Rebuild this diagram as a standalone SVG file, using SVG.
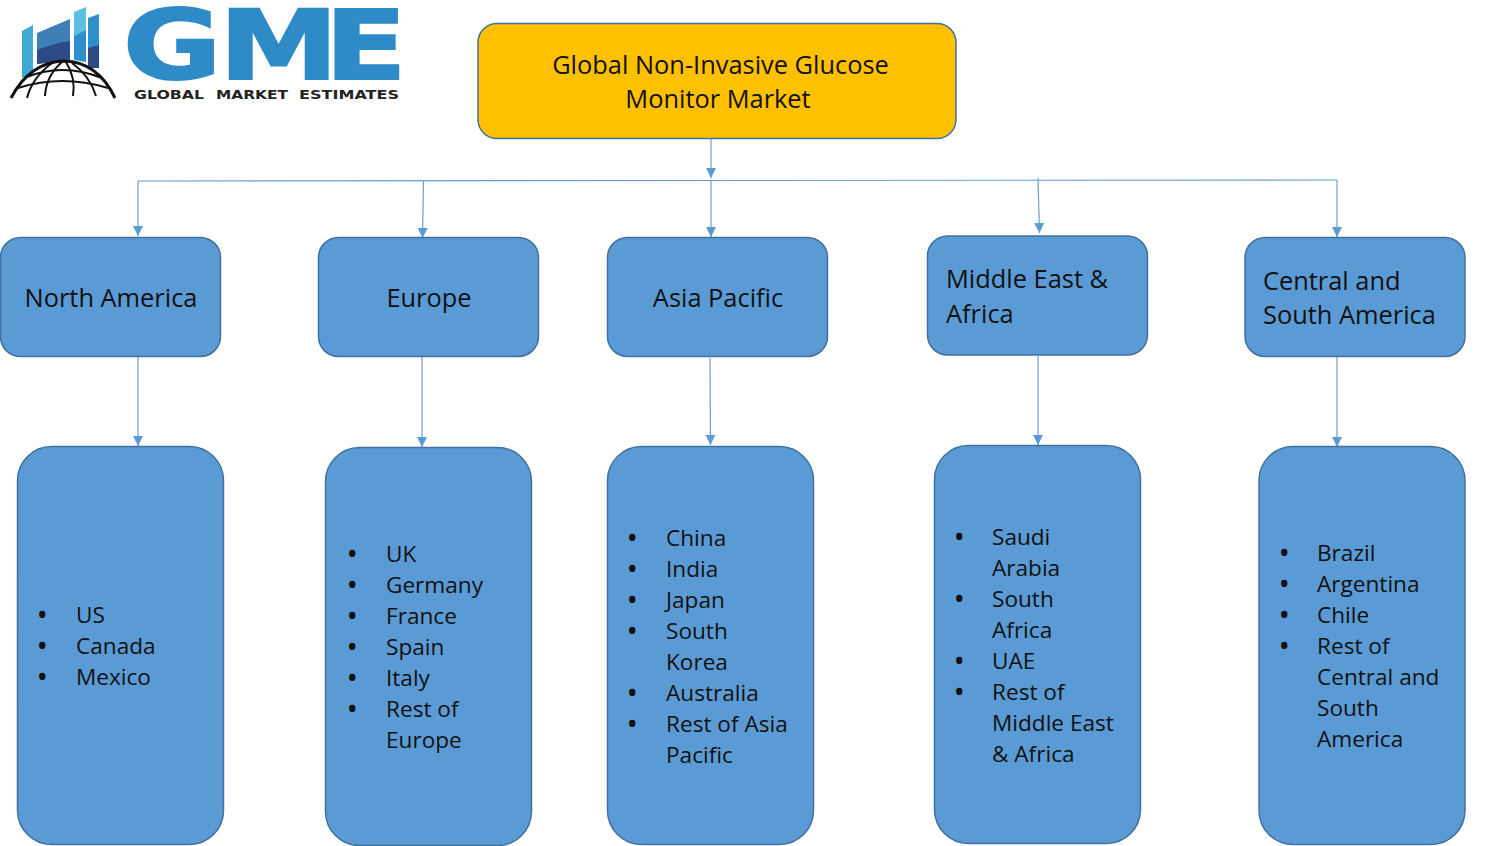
<svg xmlns="http://www.w3.org/2000/svg" width="1490" height="846" viewBox="0 0 1490 846">
<style>
text{font-family:"Open Sans","Noto Sans","Liberation Sans",sans-serif;fill:#111;font-size:22.600px}
.h{font-size:25.400px}
.box{fill:#5b9bd5;stroke:#41719c;stroke-width:1.5}
.c{fill:none;stroke:#6b9fd4;stroke-width:1.2}
.b{font-weight:700}
.g{font-family:"DejaVu Sans",sans-serif;font-weight:700;font-size:96px;fill:#2e8bc7;stroke:#2e8bc7;stroke-width:2}
.t{font-family:"DejaVu Sans",sans-serif;font-weight:700;font-size:12px;fill:#222}
</style>
<defs>
<marker id="a" markerUnits="userSpaceOnUse" markerWidth="10" markerHeight="10" refX="10" refY="5" orient="auto" viewBox="0 0 10 10"><path d="M0 0L10 5L0 10Z" fill="#5b9bd5"/></marker>
</defs>
<rect width="1490" height="846" fill="#fff"/>
<g id="logo">
<path d="M22 31L33 25V72L22 78Z" fill="#3fa9d8"/>
<path d="M37 33L70 19V60L37 64Z" fill="#3f7fb8"/>
<path d="M37 50Q55 43 70 41V60L37 64Z" fill="#2b4a86"/>
<path d="M74 12L86 7V60L74 60Z" fill="#5cc0e2"/>
<path d="M74 36L86 30V62L74 60Z" fill="#2f8fcb"/>
<path d="M88 18L99 14V66H88Z" fill="#2f8fcb"/>
<path d="M88 48L99 45V68H88Z" fill="#2c4a86"/>
<g fill="none" stroke="#111" stroke-width="2">
<path d="M11 98Q30 62 64 61Q98 62 115 98" stroke-width="3"/>
<path d="M27 98Q32 78 52 63M45 96Q46 76 62 62M73 96Q76 78 66 62M96 96Q90 76 72 63"/>
<path d="M24 78Q62 62 102 78M18 88Q62 74 108 88"/>
</g>
<text transform="translate(122.900 79) scale(1.25 1)" x="0 76.900 161.400" y="0" class="g">GME</text>
<text x="134" y="99" class="t" textLength="70" lengthAdjust="spacingAndGlyphs">GLOBAL</text>
<text x="216" y="99" class="t" textLength="72" lengthAdjust="spacingAndGlyphs">MARKET</text>
<text x="299" y="99" class="t" textLength="100" lengthAdjust="spacingAndGlyphs">ESTIMATES</text>
</g>
<g id="connectors">
<path class="c" d="M711 139V178" marker-end="url(#a)"/>
<path class="c" d="M138 181L1337 180"/>
<path class="c" d="M138 181V236" marker-end="url(#a)"/>
<path class="c" d="M423.500 181L422.500 238" marker-end="url(#a)"/>
<path class="c" d="M711 181V237" marker-end="url(#a)"/>
<path class="c" d="M1038 178L1039.500 233" marker-end="url(#a)"/>
<path class="c" d="M1337 180V237" marker-end="url(#a)"/>
<path class="c" d="M138 357V446" marker-end="url(#a)"/>
<path class="c" d="M422 357V447" marker-end="url(#a)"/>
<path class="c" d="M710 358L710.500 445" marker-end="url(#a)"/>
<path class="c" d="M1038 356V445" marker-end="url(#a)"/>
<path class="c" d="M1337 357V447" marker-end="url(#a)"/>
</g>
<g id="root"><rect x="478" y="23.500" width="478" height="115" rx="19" fill="#ffc000" stroke="#41719c" stroke-width="1.500"/>
<text x="720.500" y="73.500" text-anchor="middle" class="h">Global Non-Invasive Glucose</text>
<text x="718" y="108" text-anchor="middle" class="h">Monitor Market</text></g>
<g id="north-america"><rect class="box" x="0.500" y="237.500" width="220" height="119" rx="20"/><text x="111" y="306.500" text-anchor="middle" class="h">North America</text></g>
<g id="europe"><rect class="box" x="318.500" y="237.500" width="220" height="119" rx="20"/><text x="429" y="306.500" text-anchor="middle" class="h">Europe</text></g>
<g id="asia-pacific"><rect class="box" x="607.500" y="237.500" width="220" height="119" rx="20"/><text x="718" y="306.500" text-anchor="middle" class="h">Asia Pacific</text></g>
<g id="middle-east-africa"><rect class="box" x="927.500" y="236" width="220" height="119" rx="20"/><text x="946" y="288" class="h">Middle East &amp;</text><text x="946" y="323" class="h">Africa</text></g>
<g id="central-south-america"><rect class="box" x="1245" y="237.500" width="220" height="119" rx="20"/><text x="1263" y="290" class="h">Central and</text><text x="1263" y="324" class="h">South America</text></g>
<g id="na-list"><rect class="box" x="17.500" y="446.500" width="206" height="398" rx="34"/>
<text y="623"><tspan x="38" class="b">•</tspan><tspan x="76">US</tspan></text>
<text y="654"><tspan x="38" class="b">•</tspan><tspan x="76">Canada</tspan></text>
<text y="685"><tspan x="38" class="b">•</tspan><tspan x="76">Mexico</tspan></text></g>
<g id="eu-list"><rect class="box" x="325.500" y="447.500" width="206" height="398" rx="34"/>
<text y="562"><tspan x="348" class="b">•</tspan><tspan x="386">UK</tspan></text>
<text y="593"><tspan x="348" class="b">•</tspan><tspan x="386">Germany</tspan></text>
<text y="624"><tspan x="348" class="b">•</tspan><tspan x="386">France</tspan></text>
<text y="655"><tspan x="348" class="b">•</tspan><tspan x="386">Spain</tspan></text>
<text y="686"><tspan x="348" class="b">•</tspan><tspan x="386">Italy</tspan></text>
<text y="717"><tspan x="348" class="b">•</tspan><tspan x="386">Rest of</tspan></text>
<text x="386" y="748">Europe</text></g>
<g id="ap-list"><rect class="box" x="607.500" y="446.500" width="206" height="398" rx="34"/>
<text y="546"><tspan x="628" class="b">•</tspan><tspan x="666">China</tspan></text>
<text y="577"><tspan x="628" class="b">•</tspan><tspan x="666">India</tspan></text>
<text y="608"><tspan x="628" class="b">•</tspan><tspan x="666">Japan</tspan></text>
<text y="639"><tspan x="628" class="b">•</tspan><tspan x="666">South</tspan></text>
<text x="666" y="670">Korea</text>
<text y="701"><tspan x="628" class="b">•</tspan><tspan x="666">Australia</tspan></text>
<text y="732"><tspan x="628" class="b">•</tspan><tspan x="666">Rest of Asia</tspan></text>
<text x="666" y="763">Pacific</text></g>
<g id="mea-list"><rect class="box" x="934.500" y="445.500" width="206" height="398" rx="34"/>
<text y="545"><tspan x="955" class="b">•</tspan><tspan x="992">Saudi</tspan></text>
<text x="992" y="576">Arabia</text>
<text y="607"><tspan x="955" class="b">•</tspan><tspan x="992">South</tspan></text>
<text x="992" y="638">Africa</text>
<text y="669"><tspan x="955" class="b">•</tspan><tspan x="992">UAE</tspan></text>
<text y="700"><tspan x="955" class="b">•</tspan><tspan x="992">Rest of</tspan></text>
<text x="992" y="731">Middle East</text>
<text x="992" y="762">&amp; Africa</text></g>
<g id="csa-list"><rect class="box" x="1259" y="446.500" width="206" height="398" rx="34"/>
<text y="561"><tspan x="1280" class="b">•</tspan><tspan x="1317">Brazil</tspan></text>
<text y="592"><tspan x="1280" class="b">•</tspan><tspan x="1317">Argentina</tspan></text>
<text y="623"><tspan x="1280" class="b">•</tspan><tspan x="1317">Chile</tspan></text>
<text y="654"><tspan x="1280" class="b">•</tspan><tspan x="1317">Rest of</tspan></text>
<text x="1317" y="685">Central and</text>
<text x="1317" y="716">South</text>
<text x="1317" y="747">America</text></g>
</svg>
